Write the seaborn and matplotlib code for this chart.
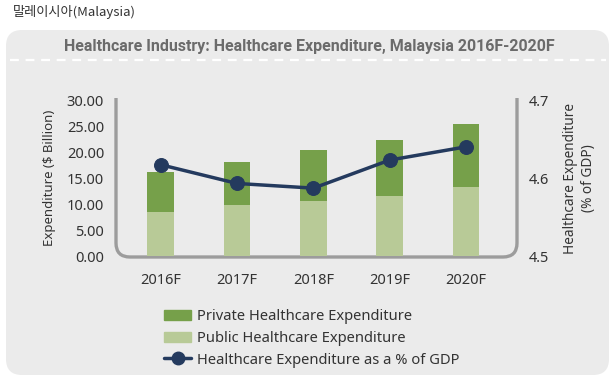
import numpy as np
import pandas as pd
import matplotlib
matplotlib.use("Agg")
import matplotlib.pyplot as plt
import seaborn as sns
from matplotlib.patches import FancyBboxPatch, PathPatch
from matplotlib.path import Path
from matplotlib.patches import Patch
from matplotlib.lines import Line2D

# Data
years = ["2016F", "2017F", "2018F", "2019F", "2020F"]
total_exp = [16.1, 18.0, 20.3, 22.4, 25.3]
public_exp = [8.4, 9.8, 10.5, 11.5, 13.2]
gdp_share = [4.617, 4.593, 4.587, 4.623, 4.640]

left_ticks = [0, 5, 10, 15, 20, 25, 30]
right_ticks = [4.5, 4.6, 4.7]

C_PRIV = "#76a04a"
C_PUB = "#b8ca97"
C_LINE = "#243a5e"
C_PANEL = "#ebebeb"
C_FRAME = "#9c9c9c"
C_TEXT = "#333333"

sns.set_style("white")
plt.rcParams['font.family'] = ['Noto Sans', 'Noto Sans CJK KR', 'DejaVu Sans']

W, H = 615, 376
fig = plt.figure(figsize=(W / 100, H / 100), dpi=100)
fig.patch.set_facecolor("white")

# decoration layer in pixel coordinates
bg = fig.add_axes([0, 0, 1, 1], zorder=0)
bg.set_xlim(0, W)
bg.set_ylim(H, 0)
bg.axis("off")
bg.add_patch(FancyBboxPatch((6, 30), 603, 345, boxstyle="round,pad=0,rounding_size=16",
                            fc=C_PANEL, ec="none"))
bg.plot([10, 606], [60, 60], color="white", lw=1.6, ls=(0, (4, 3)))
bg.text(13, 12, "말레이시아(Malaysia)", fontsize=9.5, color=C_TEXT, va="center", ha="left",
        family=['Noto Sans CJK KR', 'DejaVu Sans'])
bg.text(309, 46, "Healthcare Industry: Healthcare Expenditure, Malaysia 2016F-2020F",
        fontsize=11.5, fontweight="bold", color="#6b6b6b", ha="center", va="center",
        family=['Roboto', 'DejaVu Sans'])

# U-shaped frame with rounded corners
xl, xr, yt, yb, r = 116, 517, 98, 257, 14
verts = [(xl, yt), (xl, yb - r), (xl, yb), (xl + r, yb), (xr - r, yb), (xr, yb), (xr, yb - r), (xr, yt)]
codes = [Path.MOVETO, Path.LINETO, Path.CURVE3, Path.CURVE3, Path.LINETO, Path.CURVE3, Path.CURVE3, Path.LINETO]
bg.add_patch(PathPatch(Path(verts, codes), fc="none", ec=C_FRAME, lw=2.4, capstyle="butt"))

# main chart
ax = fig.add_axes([118 / W, 1 - 256 / H, 400 / W, 156 / H], zorder=1)
ax.patch.set_alpha(0)
df = pd.DataFrame({"year": years, "total": total_exp, "public": public_exp, "gdp": gdp_share})

sns.barplot(data=df, x="year", y="total", color=C_PRIV, width=0.35, saturation=1,
            linewidth=0, edgecolor="none", ax=ax)
sns.barplot(data=df, x="year", y="public", color=C_PUB, width=0.35, saturation=1,
            linewidth=0, edgecolor="none", ax=ax)
ax.set_xlim(-0.56, 4.68)
ax.set_ylim(0, 30)
ax.set_yticks(left_ticks)
ax.set_yticklabels([f"{v:.2f}" for v in left_ticks])
ax.tick_params(axis="y", length=0, pad=10, labelsize=10.5, colors=C_TEXT)
ax.tick_params(axis="x", length=0, pad=12, labelsize=10.5, colors=C_TEXT)
ax.set_xlabel("")
ax.set_ylabel("Expenditure ($ Billion)", fontsize=9.5, color=C_TEXT, labelpad=8)
for s in ax.spines.values():
    s.set_visible(False)

ax2 = ax.twinx()
sns.lineplot(x=np.arange(len(years)), y=df["gdp"], color=C_LINE, lw=2.5, marker="o",
             markersize=10, markeredgecolor=C_LINE, ax=ax2)
ax2.set_ylim(4.5, 4.7)
ax2.set_yticks(right_ticks)
ax2.set_yticklabels([f"{v:.1f}" for v in right_ticks])
ax2.tick_params(axis="y", length=0, pad=8, labelsize=10.5, colors=C_TEXT)
ax2.set_ylabel("Healthcare Expenditure\n(% of GDP)", fontsize=9.8, color=C_TEXT, labelpad=10)
for s in ax2.spines.values():
    s.set_visible(False)

handles = [Patch(color=C_PRIV), Patch(color=C_PUB),
           Line2D([], [], color=C_LINE, lw=2.5, marker="o", markersize=9)]
labels = ["Private Healthcare Expenditure", "Public Healthcare Expenditure",
          "Healthcare Expenditure as a % of GDP"]
fig.legend(handles, labels, loc="upper left", bbox_to_anchor=(151 / W, 1 - 296 / H),
           frameon=False, fontsize=10.6, labelspacing=0.45, handlelength=1.8,
           handletextpad=0.45, labelcolor=C_TEXT)

fig.savefig("out.png", dpi=100, facecolor="white")
